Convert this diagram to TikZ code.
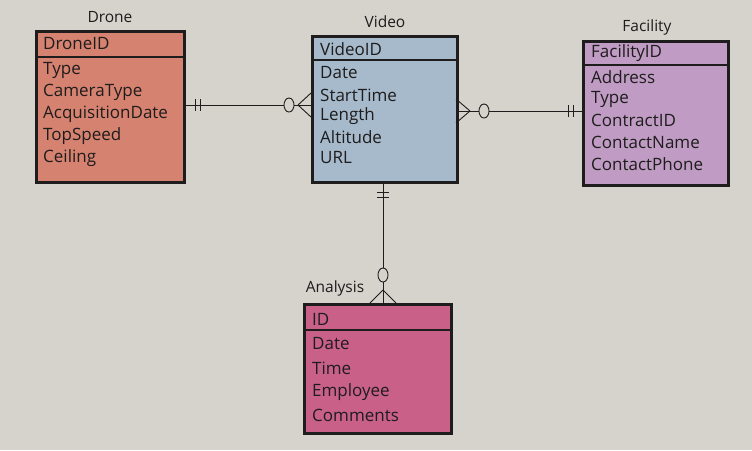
\documentclass[tikz,border=0pt]{standalone}
\usepackage{fontspec}
\setmainfont{Open Sans}
\definecolor{bg}{RGB}{214,211,204}
\definecolor{droneC}{RGB}{214,130,112}
\definecolor{videoC}{RGB}{166,186,204}
\definecolor{facC}{RGB}{192,156,196}
\definecolor{anaC}{RGB}{200,96,136}
\definecolor{ink}{RGB}{30,28,28}
\tikzset{
 ent/.style={draw=ink,line width=2.6pt,anchor=north west,inner sep=0pt},
 item/.style={anchor=west,inner sep=0pt,font=\fontsize{17}{17}\selectfont,text=ink},
 ttl/.style={inner sep=0pt,font=\fontsize{15.5}{15.5}\selectfont,text=ink},
 rel/.style={draw=ink,line width=0.9pt},
}
\begin{document}
\begin{tikzpicture}[x=1pt,y=-1pt]
\fill[bg] (0,0) rectangle (752,450);
\useasboundingbox (0,0) rectangle (752,450);
% Drone
\node[ent,fill=droneC,minimum width=148pt,minimum height=151pt] (drone) at (35,30) {};
\draw[ink,line width=2pt] (35,57) -- (183,57);
\node[ttl] (tdrone) at (110,17) {Drone};
\node[item] (d0) at (43,44) {DroneID};
\node[item] (d1) at (43,70) {Type};
\node[item] (d2) at (43,92) {CameraType};
\node[item] (d3) at (43,114) {AcquisitionDate};
\node[item] (d4) at (43,136) {TopSpeed};
\node[item] (d5) at (43,158) {Ceiling};
% Video
\node[ent,fill=videoC,minimum width=145pt,minimum height=146pt] (video) at (311,35) {};
\draw[ink,line width=2pt] (311,60) -- (456,60);
\node[ttl] (tvideo) at (385,22) {Video};
\node[item] (v0) at (320,49) {VideoID};
\node[item] (v1) at (320,73) {Date};
\node[item] (v2) at (320,95) {StartTime};
\node[item] (v3) at (320,116) {Length};
\node[item] (v4) at (320,137) {Altitude};
\node[item] (v5) at (320,158) {URL};
% Facility
\node[ent,fill=facC,minimum width=145pt,minimum height=144pt] (fac) at (582,40) {};
\draw[ink,line width=2pt] (582,65) -- (727,65);
\node[ttl] (tfac) at (647,27) {Facility};
\node[item] (f0) at (591,53) {FacilityID};
\node[item] (f1) at (591,77) {Address};
\node[item] (f2) at (591,99) {Type};
\node[item] (f3) at (591,120) {ContractID};
\node[item] (f4) at (591,142) {ContactName};
\node[item] (f5) at (591,164) {ContactPhone};
% Analysis
\node[ent,fill=anaC,minimum width=147pt,minimum height=129pt] (ana) at (303,303) {};
\draw[ink,line width=2pt] (303,330) -- (450,330);
\node[ttl] (tana) at (335,288) {Analysis};
\node[item] (a0) at (312,319) {ID};
\node[item] (a1) at (312,344) {Date};
\node[item] (a2) at (312,368) {Time};
\node[item] (a3) at (312,392) {Employee};
\node[item] (a4) at (312,415) {Comments};
% Drone - Video
\draw[rel] (drone.east |- 0,105) -- (video.west |- 0,105);
\draw[rel] (195,99) -- (195,111) (200,99) -- (200,111);
\draw[rel,fill=bg] (289,105) ellipse (5 and 7);
\draw[rel] (298,105) -- (311,93) (298,105) -- (311,117);
% Video - Facility
\draw[rel] (video.east |- 0,111) -- (fac.west |- 0,111);
\draw[rel,fill=bg] (484,111) ellipse (5 and 7);
\draw[rel] (470,111) -- (456,99) (470,111) -- (456,123);
\draw[rel] (568,105) -- (568,117) (573,105) -- (573,117);
% Video - Analysis
\draw[rel] (video.south -| 383,0) -- (ana.north -| 383,0);
\draw[rel] (377,192) -- (389,192) (377,197) -- (389,197);
\draw[rel,fill=bg] (383,275) ellipse (5 and 7);
\draw[rel] (383,290) -- (370,303) (383,290) -- (396,303);
\end{tikzpicture}
\end{document}
